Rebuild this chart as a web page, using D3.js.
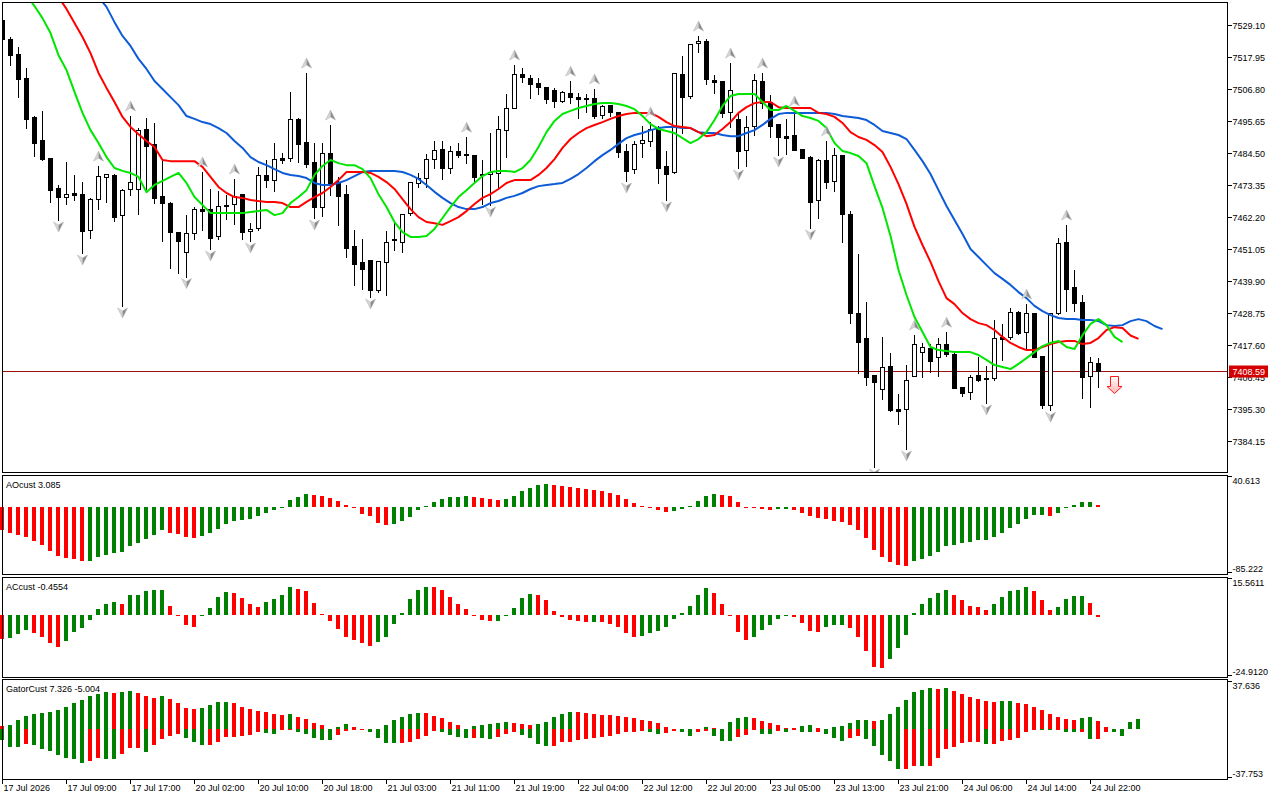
<!DOCTYPE html>
<html>
<head>
<meta charset="utf-8">
<script src="https://cdn.jsdelivr.net/npm/d3@7"></script>
<style>
  body { margin: 0; background: #fff; }
  svg { display: block; font-family: "Liberation Sans", Arial, sans-serif; font-size: 9px; }
</style>
</head>
<body>
<svg id="chart" width="1280" height="800"></svg>
<script>
// hourly bars, index 0 = 17 Jul 2026 01:00
const open = [7530.8,7524.2,7519.0,7510.6,7497.1,7489.1,7482.8,7472.3,7469.2,7470.6,
  7470.3,7457.7,7468.5,7476.2,7476.9,7462.9,7472.0,7472.0,7492.9,7487.7,
  7469.6,7467.1,7457.0,7450.1,7456.7,7465.0,7465.0,7455.6,7466.4,7466.8,
  7470.2,7457.4,7458.4,7476.9,7475.1,7482.8,7482.8,7496.4,7488.4,7481.4,
  7465.7,7484.5,7474.4,7470.2,7452.1,7446.6,7447.3,7436.8,7446.6,7454.6,
  7453.5,7463.6,7474.1,7475.8,7482.4,7485.9,7479.3,7485.2,7484.2,7483.8,
  7477.2,7477.2,7477.6,7492.5,7500.2,7512.0,7510.6,7508.9,7507.5,7506.5,
  7502.6,7505.4,7504.0,7503.7,7503.7,7497.8,7501.2,7498.8,7485.2,7478.9,
  7488.0,7488.7,7493.2,7480.0,7477.9,7512.0,7504.4,7522.8,7523.5,7509.9,
  7509.6,7498.8,7496.4,7485.6,7493.9,7509.6,7502.3,7494.6,7490.4,7490.8,
  7485.9,7483.1,7468.2,7482.1,7474.8,7483.8,7463.3,7428.8,7420.1,7407.2,
  7402.3,7410.4,7395.4,7395.4,7406.9,7415.2,7416.6,7413.5,7418.0,7414.5,
  7403.0,7401.3,7407.2,7406.2,7406.2,7420.5,7420.5,7429.2,7422.2,7428.8,
  7413.8,7396.8,7428.8,7453.5,7437.9,7432.6,7406.9,7411.4];
const high = [7531.5,7525.3,7521.8,7514.5,7497.8,7499.5,7482.8,7473.7,7481.7,7477.2,
  7474.8,7469.2,7480.3,7477.2,7477.6,7472.3,7497.8,7493.6,7497.1,7495.3,
  7482.4,7467.8,7457.0,7463.3,7466.1,7478.3,7472.3,7471.6,7470.2,7475.8,
  7470.6,7460.5,7480.0,7482.4,7488.4,7484.9,7506.1,7497.1,7512.7,7488.4,
  7488.4,7494.6,7476.5,7473.7,7458.1,7454.9,7447.3,7446.9,7457.7,7460.8,
  7463.6,7474.4,7477.9,7484.5,7489.1,7489.1,7487.3,7488.4,7490.4,7483.8,
  7482.4,7491.8,7497.8,7505.4,7515.5,7514.5,7512.0,7511.0,7507.9,7507.5,
  7506.5,7509.9,7505.8,7505.4,7507.2,7501.6,7501.6,7498.8,7488.0,7489.1,
  7494.3,7495.7,7494.3,7485.6,7512.4,7518.7,7522.8,7525.6,7524.6,7512.0,
  7509.9,7516.2,7498.8,7497.8,7512.4,7512.7,7505.1,7495.0,7496.7,7499.5,
  7485.9,7483.8,7482.8,7489.1,7486.6,7484.2,7464.7,7449.7,7433.0,7407.2,
  7420.8,7415.2,7400.9,7411.1,7421.5,7418.7,7418.4,7420.5,7422.5,7415.9,
  7403.0,7407.6,7413.8,7410.7,7426.7,7425.3,7430.9,7429.9,7432.3,7429.2,
  7413.8,7429.2,7455.3,7459.8,7444.1,7435.4,7413.8,7413.5];
const low = [7523.9,7515.2,7504.0,7493.2,7483.5,7482.0,7467.5,7461.2,7466.8,7468.2,
  7449.7,7454.9,7465.0,7467.5,7460.8,7431.3,7469.9,7463.3,7472.0,7467.1,
  7453.9,7444.5,7442.7,7441.5,7454.6,7457.7,7451.1,7454.6,7461.5,7459.8,
  7454.6,7453.9,7457.7,7472.7,7471.3,7481.0,7481.7,7481.4,7479.7,7461.9,
  7462.6,7469.9,7459.5,7448.3,7438.6,7437.2,7434.4,7436.1,7435.1,7450.8,
  7450.1,7462.9,7472.7,7472.7,7479.3,7475.5,7477.6,7483.1,7481.0,7474.4,
  7466.8,7466.4,7472.7,7483.1,7500.2,7509.2,7503.7,7505.1,7501.9,7500.5,
  7502.3,7501.9,7496.7,7498.8,7496.7,7496.7,7497.4,7483.1,7474.8,7477.6,
  7483.1,7487.0,7474.1,7468.2,7477.6,7491.5,7503.7,7519.7,7508.6,7505.4,
  7497.1,7493.6,7479.3,7480.0,7490.8,7500.2,7490.1,7483.8,7484.2,7485.6,
  7482.8,7458.4,7461.9,7472.3,7471.3,7453.5,7425.3,7407.9,7403.7,7375.2,
  7398.9,7394.7,7390.2,7381.5,7406.9,7406.5,7408.3,7406.9,7413.8,7402.7,
  7399.9,7398.9,7405.1,7397.5,7405.5,7412.5,7419.8,7421.5,7416.6,7413.5,
  7395.7,7395.0,7428.5,7429.5,7429.5,7399.2,7396.1,7403.0];
const close = [7524.2,7518.7,7510.3,7496.4,7488.0,7482.4,7471.6,7469.2,7470.3,7469.9,
  7457.4,7468.5,7476.5,7477.2,7462.2,7471.6,7474.4,7492.5,7487.0,7468.9,
  7467.1,7457.0,7453.9,7456.7,7465.0,7464.3,7454.9,7466.1,7466.1,7469.6,
  7457.0,7458.1,7476.9,7475.1,7482.4,7482.1,7496.4,7487.7,7480.7,7465.7,
  7484.5,7474.1,7469.6,7451.4,7445.9,7444.1,7436.8,7446.9,7453.5,7454.2,
  7463.3,7474.4,7475.8,7482.4,7485.6,7479.3,7485.2,7483.8,7483.8,7476.2,
  7476.9,7477.9,7492.9,7500.2,7512.0,7511.0,7508.6,7507.5,7503.3,7502.6,
  7505.8,7504.0,7503.3,7503.3,7497.4,7500.9,7498.8,7484.9,7478.3,7487.7,
  7489.1,7492.9,7479.3,7477.2,7512.4,7504.0,7522.5,7523.5,7510.3,7509.2,
  7498.5,7506.5,7485.2,7493.6,7509.9,7501.9,7493.9,7490.1,7489.7,7485.6,
  7482.8,7467.5,7482.1,7474.4,7483.8,7463.3,7428.8,7418.7,7406.5,7404.8,
  7410.0,7395.0,7394.7,7405.5,7418.0,7417.0,7412.1,7418.0,7414.5,7402.7,
  7401.0,7406.5,7405.5,7405.8,7420.1,7419.8,7429.2,7421.8,7428.8,7413.5,
  7396.8,7428.8,7453.2,7437.2,7432.3,7406.5,7411.8,7408.59];

// alligator lines (already shifted forward), first bar index of each
const jawStart = 12;
const jaw = [7538.8,7535.4,7530.1,7525.3,7521.8,7517.3,7513.8,7509.6,7506.8,7504.0,
  7501.2,7497.4,7496.4,7495.3,7494.6,7493.2,7491.5,7488.7,7486.3,7483.1,
  7481.4,7480.3,7478.9,7477.6,7476.9,7476.5,7475.8,7474.1,7473.4,7473.4,
  7474.1,7475.1,7476.5,7477.9,7478.3,7478.3,7478.3,7478.3,7477.9,7476.9,
  7475.5,7473.4,7471.0,7468.9,7467.1,7465.7,7465.0,7465.0,7465.7,7467.1,
  7467.8,7468.9,7469.6,7470.6,7472.0,7473.0,7473.4,7473.7,7474.1,7475.5,
  7477.2,7479.3,7481.7,7483.8,7485.6,7487.7,7489.7,7490.8,7491.5,7492.5,
  7493.2,7493.6,7493.6,7493.2,7493.2,7491.8,7491.5,7491.5,7490.8,7490.4,
  7490.4,7491.5,7492.5,7494.3,7496.4,7498.1,7498.5,7498.5,7498.5,7498.5,
  7498.5,7498.5,7498.1,7497.4,7497.1,7496.7,7496.0,7494.3,7492.2,7491.5,
  7490.8,7489.4,7485.6,7481.7,7477.2,7471.6,7466.1,7461.2,7456.3,7451.1,
  7448.3,7445.5,7442.7,7440.7,7438.6,7436.1,7434.0,7431.3,7429.5,7428.1,
  7427.1,7426.7,7426.7,7426.4,7426.4,7426.0,7424.6,7424.3,7424.6,7426.0,
  7426.7,7426.0,7424.3,7423.2];
const teethStart = 7;
const teeth = [7538.8,7534.7,7529.8,7524.9,7519.3,7512.4,7507.2,7502.3,7497.1,7493.6,
  7491.1,7488.7,7486.6,7482.1,7481.7,7481.7,7481.7,7481.7,7479.7,7476.2,
  7472.7,7470.6,7469.2,7468.9,7468.2,7467.8,7467.5,7467.5,7467.1,7465.7,
  7465.7,7467.5,7469.2,7470.6,7472.7,7475.1,7477.9,7477.9,7477.9,7477.6,
  7476.2,7474.4,7472.0,7468.5,7465.0,7462.2,7460.5,7460.1,7459.5,7460.8,
  7462.2,7464.3,7466.8,7468.9,7470.2,7472.0,7474.1,7475.1,7475.1,7475.1,
  7476.9,7479.3,7482.4,7486.3,7489.4,7491.5,7493.2,7494.3,7495.3,7496.4,
  7497.4,7498.1,7498.5,7498.5,7498.5,7497.1,7495.3,7493.9,7493.6,7493.2,
  7491.8,7490.4,7490.8,7492.9,7495.3,7498.5,7500.5,7501.9,7502.3,7502.3,
  7500.5,7500.2,7500.2,7500.2,7500.2,7498.5,7498.1,7497.1,7495.0,7491.8,
  7490.1,7489.1,7487.3,7484.9,7479.7,7473.7,7466.8,7458.8,7452.5,7446.6,
  7439.9,7434.0,7431.9,7428.8,7426.7,7425.3,7424.6,7422.9,7420.5,7418.4,
  7417.0,7415.9,7415.9,7417.0,7418.0,7418.7,7419.1,7419.1,7418.0,7418.4,
  7420.1,7422.9,7423.9,7423.6,7421.0,7419.8];
const lipsStart = 3;
const lips = [7539.5,7535.7,7531.5,7526.3,7518.6,7513.4,7505.8,7498.5,7492.5,7488.0,
  7483.1,7479.3,7478.3,7477.6,7476.2,7470.9,7473.4,7474.8,7476.2,7477.6,
  7474.1,7469.2,7466.4,7463.6,7463.6,7463.6,7463.6,7463.6,7464.0,7464.3,
  7464.7,7462.9,7463.6,7467.1,7469.2,7471.6,7476.9,7480.0,7482.1,7481.0,
  7480.3,7480.3,7478.9,7475.8,7470.2,7465.7,7460.5,7457.0,7455.3,7455.3,
  7455.6,7458.1,7461.9,7465.7,7469.2,7471.6,7474.1,7476.5,7477.9,7478.3,
  7478.3,7477.9,7479.3,7482.1,7486.6,7491.8,7495.7,7498.1,7499.2,7500.2,
  7500.9,7501.6,7501.9,7501.9,7501.6,7500.9,7499.8,7497.4,7494.6,7492.9,
  7492.2,7491.5,7489.7,7488.0,7489.4,7491.8,7496.0,7500.9,7504.4,7505.1,
  7505.1,7505.1,7502.3,7499.5,7499.5,7500.9,7499.2,7497.4,7496.7,7495.7,
  7493.2,7488.0,7485.2,7484.5,7483.5,7481.0,7473.0,7465.4,7455.6,7443.8,
  7435.1,7427.4,7422.2,7417.0,7415.9,7415.6,7415.2,7415.2,7415.2,7414.2,
  7412.5,7410.7,7410.0,7409.3,7411.1,7413.1,7415.2,7417.3,7418.4,7419.1,
  7417.0,7416.3,7421.1,7425.0,7426.7,7424.6,7420.5,7418.7];

const fractalUp = [12,16,25,29,38,41,58,64,71,74,81,87,91,95,99,103,114,118,128,133];
const fractalDown = [7,10,15,23,26,31,39,46,61,78,83,92,97,101,109,113,123,131];
const signal = { bar: 139, price: 7406.9 };
const lastPrice = 7408.59;

const priceTicks = [7529.10,7517.95,7506.80,7495.65,7484.50,7473.35,7462.20,
  7451.05,7439.90,7428.75,7417.60,7406.45,7395.30,7384.15];

const ao = [-28.8,-33.0,-36.0,-38.0,-43.0,-48.7,-56.0,-62.7,-65.0,-66.5,
  -68.6,-68.4,-63.6,-61.4,-58.5,-57.2,-50.0,-45.8,-40.7,-35.6,
  -29.7,-32.6,-34.7,-38.1,-39.8,-36.9,-33.0,-28.4,-22.0,-18.2,
  -16.9,-15.7,-11.9,-8.0,-4.2,-1.3,8.5,12.7,16.1,15.8,
  14.4,11.9,7.6,2.1,-1.7,-8.9,-11.4,-20.3,-22.5,-21.2,
  -17.8,-12.7,-4.2,1.3,6.4,9.7,12.7,12.9,13.6,12.7,
  11.0,9.7,9.3,9.7,13.6,20.3,24.6,27.5,28.8,28.0,
  26.3,25.4,24.2,22.5,21.2,19.9,17.8,14.8,9.7,4.7,
  0.8,-0.6,-3.8,-6.4,-4.7,-2.5,0.8,7.2,13.6,16.1,
  14.8,13.6,5.9,-0.8,-0.9,-2.1,-3.4,-3.2,-2.5,-3.4,
  -7.6,-11.4,-14.4,-15.3,-17.8,-19.5,-22.9,-29.7,-39.4,-55.1,
  -63.6,-69.9,-74.2,-75.4,-68.6,-66.1,-62.7,-57.6,-50.0,-48.3,
  -45.8,-44.9,-42.4,-42.2,-38.6,-33.0,-26.7,-21.6,-15.3,-10.6,
  -9.8,-11.4,-7.6,-1.3,2.1,5.9,6.3,3.085];
const ac = [-9.4,-9.2,-7.7,-5.7,-7.1,-8.8,-11.2,-12.8,-10.4,-6.7,
  -5.1,-1.8,2.6,4.5,5.3,4.5,8.1,8.4,9.8,10.1,
  10.2,4.0,-0.3,-4.0,-4.7,-0.3,3.1,7.4,9.3,9.2,
  7.0,4.5,3.6,5.3,6.5,8.1,11.5,10.9,9.8,5.0,
  0.7,-2.3,-5.5,-8.8,-10.1,-11.1,-12.4,-10.8,-8.8,-3.6,
  1.1,6.5,10.3,11.7,11.6,10.1,7.4,4.5,2.8,-0.3,
  -1.9,-2.3,-2.2,-0.4,3.2,6.9,8.8,8.4,6.1,2.0,
  -0.7,-1.8,-2.4,-2.7,-2.6,-2.7,-3.6,-4.7,-7.1,-8.8,
  -8.4,-7.1,-6.3,-4.7,-1.5,1.1,4.0,8.1,11.3,8.9,
  4.5,-0.3,-6.7,-10.1,-8.8,-5.7,-4.0,-1.5,-0.3,-0.7,
  -3.1,-6.1,-6.5,-4.7,-4.0,-3.9,-5.1,-8.8,-14.2,-20.9,
  -21.3,-17.8,-13.2,-8.1,1.1,4.5,7.0,8.9,10.5,8.1,
  6.1,4.0,3.6,2.4,4.5,7.4,9.7,10.5,11.7,9.7,
  6.1,2.4,3.6,6.5,7.7,7.8,4.9,-0.4554];
const gatorUp = [2.3,3.3,7.0,10.0,11.5,12.5,13.3,14.5,16.8,19.5,
  22.0,25.0,26.6,27.8,27.6,28.1,28.6,27.1,25.0,23.5,
  25.0,22.5,19.8,15.8,15.3,16.0,18.3,20.5,20.6,19.5,
  16.5,15.3,13.8,13.0,11.8,10.8,11.5,9.5,7.8,4.8,
  3.3,0.3,1.8,4.0,1.5,0.3,0,0,3.3,7.0,
  9.3,11.5,12.5,12.4,10.0,8.5,5.5,3.3,0.2,2.5,
  3.3,4.0,4.8,5.5,4.8,4.0,3.3,4.0,5.5,9.3,
  11.5,13.0,12.9,12.5,11.5,10.8,10.7,10.0,9.3,8.5,
  7.0,6.0,4.8,2.0,0.3,0.2,0.1,0.5,1.8,1.0,
  0.3,5.5,8.5,9.3,8.5,6.5,4.8,3.3,1.0,0.8,
  2.5,3.3,1.0,0.3,1.8,2.5,4.8,7.0,7.1,6.3,
  7.0,11.8,16.8,22.0,28.1,29.6,31.1,30.3,31.1,28.8,
  26.6,24.3,22.5,21.3,20.5,21.0,21.3,19.8,19.0,16.8,
  14.5,11.5,9.3,7.8,7.0,8.5,9.3,6.3,1.5,0,
  0,5.5,7.8];
const gatorDown = [-8.5,-13.3,-13.4,-11.5,-12.3,-14.8,-16.8,-19.8,-21.5,-22.8,
  -25.8,-24.3,-22.0,-22.8,-22.9,-19.0,-14.5,-14.4,-17.5,-12.3,
  -7.3,-4.8,-3.5,-7.0,-9.8,-12.3,-12.2,-10.0,-6.3,-5.8,
  -5.3,-4.5,-2.5,-2.6,-4.0,-1.0,-0.5,-2.5,-4.0,-6.5,
  -8.0,-8.5,-4.5,-1.5,-1.0,-0.3,-2.5,-6.5,-10.3,-10.8,
  -10.7,-10.0,-7.3,-5.0,-1.3,-1.8,-4.3,-5.8,-6.5,-6.4,
  -7.0,-7.3,-5.8,-3.5,-2.5,-4.3,-6.5,-11.5,-12.5,-12.4,
  -10.0,-9.9,-8.5,-7.5,-7.0,-6.0,-5.0,-3.3,-2.5,-2.4,
  -1.5,-2.5,-4.0,-3.0,-1.5,-2.5,-4.8,-2.3,-1.5,-5.5,
  -8.8,-9.3,-6.3,-4.3,-0.3,-3.3,-3.4,-1.3,-2.0,-0.5,
  -1.8,-2.5,-2.4,-3.3,-7.0,-9.3,-7.0,-5.5,-7.8,-13.0,
  -19.8,-24.3,-30.3,-30.2,-27.6,-28.1,-27.6,-22.0,-15.3,-13.8,
  -10.8,-10.0,-9.8,-11.5,-11.4,-9.3,-8.5,-6.5,-2.5,-0.3,
  -0.5,-1.0,-0.1,-1.8,-2.5,-1.8,-7.3,-7.2,-1.8,-2.5,
  -4.8];

const timeLabels = ["17 Jul 2026","17 Jul 09:00","17 Jul 17:00","20 Jul 02:00","20 Jul 10:00",
  "20 Jul 18:00","21 Jul 03:00","21 Jul 11:00","21 Jul 19:00","22 Jul 04:00","22 Jul 12:00",
  "22 Jul 20:00","23 Jul 05:00","23 Jul 13:00","23 Jul 21:00","24 Jul 06:00","24 Jul 14:00",
  "24 Jul 22:00"];
const labelStep = 8; // bars between time labels

const GREEN = '#008000', RED = '#ff0000';

const svg = d3.select('#chart');
const x = d3.scaleLinear().domain([0, 1]).range([2.5, 10.5]);
const yMain = d3.scaleLinear().domain([7384.15, 7529.10]).range([441.3, 25]);
const yAO = d3.scaleLinear().domain([-85.222, 40.613]).range([574, 475]);
const yAC = d3.scaleLinear().domain([-24.912, 15.5611]).range([677, 577]);
const yGa = d3.scaleLinear().domain([-37.753, 37.636]).range([779, 679.5]);

const panels = [
  { top: 2.5, bottom: 472.5 },
  { top: 475.5, bottom: 574.5 },
  { top: 577.5, bottom: 677.5 },
  { top: 679.5, bottom: 779.5 }
];
const left = 2.5, right = 1227.5;
const px = v => Math.round(v) + 0.5;

svg.append('defs').append('clipPath').attr('id', 'clipMain')
  .append('rect').attr('x', 3).attr('y', 3).attr('width', right - 3.5).attr('height', 469);

const grad = svg.select('defs').append('linearGradient')
  .attr('id', 'sigFill').attr('x1', 0).attr('y1', 0).attr('x2', 0).attr('y2', 1);
grad.append('stop').attr('offset', '0%').attr('stop-color', '#ffffff');
grad.append('stop').attr('offset', '100%').attr('stop-color', '#ffb4b4');

// ---------- main price window ----------
const main = svg.append('g').attr('clip-path', 'url(#clipMain)');
const idx = d3.range(close.length);

// current price line
main.append('line')
  .attr('x1', left).attr('x2', right)
  .attr('y1', px(yMain(lastPrice))).attr('y2', px(yMain(lastPrice)))
  .attr('stroke', '#a01010').attr('stroke-width', 1);

main.selectAll('line.wick').data(idx).join('line')
  .attr('class', 'wick')
  .attr('x1', k => x(k)).attr('x2', k => x(k))
  .attr('y1', k => px(yMain(high[k]))).attr('y2', k => px(yMain(low[k])))
  .attr('stroke', '#000').attr('stroke-width', 1)
  .attr('shape-rendering', 'crispEdges');

main.selectAll('path.body').data(idx).join('path')
  .attr('class', 'body')
  .attr('d', k => {
    const t = px(Math.min(yMain(open[k]), yMain(close[k])));
    const b = px(Math.max(yMain(open[k]), yMain(close[k])));
    const x0 = x(k) - 2, x1 = x(k) + 2;
    return `M${x0},${t}H${x1}V${b}H${x0}Z`;
  })
  .attr('fill', k => close[k] < open[k] ? '#000' : '#fff')
  .attr('stroke', '#000').attr('stroke-width', 1)
  .attr('shape-rendering', 'crispEdges');

const lineGen = d3.line().x(d => x(d.k)).y(d => yMain(d.v));
const asPoints = (start, vals) => vals.map((v, i) => ({ k: start + i, v }));
[[jawStart, jaw, '#0d5bd6'], [teethStart, teeth, '#ff0000'], [lipsStart, lips, '#00e600']]
  .forEach(([s, vals, col]) => {
    main.append('path')
      .datum(asPoints(s, vals))
      .attr('d', lineGen)
      .attr('fill', 'none')
      .attr('stroke', col)
      .attr('stroke-width', 2)
      .attr('stroke-linejoin', 'round');
  });

// fractals
function drawFractal(g, cx, cy, up) {
  const s = up ? 1 : -1;
  const f = g.append('g').attr('transform', `translate(${cx},${cy}) scale(1,${s})`);
  f.append('path').attr('d', 'M0,-5L0,2L-5,5Z').attr('fill', '#d6d6d6');
  f.append('path').attr('d', 'M0,-5L5,5L0,2Z').attr('fill', '#8a8a8a');
  f.append('path').attr('d', 'M0,-5L5,5L0,2L-5,5Z').attr('fill', 'none')
    .attr('stroke', '#b0b0b0').attr('stroke-width', 0.5);
}
fractalUp.forEach(k => drawFractal(main, x(k), yMain(high[k]) - 9, true));
fractalDown.forEach(k => drawFractal(main, x(k), yMain(low[k]) + 7, false));

// sell signal arrow
main.append('path')
  .attr('transform', `translate(${x(signal.bar)},${px(yMain(signal.price))})`)
  .attr('d', 'M-4,0H4V10H7.5L0,17L-7.5,10H-4Z')
  .attr('fill', 'url(#sigFill)')
  .attr('stroke', '#ff1a1a').attr('stroke-width', 1);

// ---------- histogram windows ----------
function histogram(vals, y, colorOf) {
  const g = svg.append('g').attr('shape-rendering', 'crispEdges');
  const y0 = Math.round(y(0));
  g.selectAll('rect').data(vals.map((v, k) => ({ v, k })).filter(d => d.v !== 0)).join('rect')
    .attr('x', d => x(d.k) - 2.5)
    .attr('width', 4)
    .attr('y', d => Math.min(y0, Math.round(y(d.v))))
    .attr('height', d => Math.max(1, Math.abs(Math.round(y(d.v)) - y0)))
    .attr('fill', d => colorOf(d.k));
}
const risingColor = (vals, first) => k =>
  k === 0 ? first : (vals[k] > vals[k - 1] ? GREEN : RED);
const growingColor = (vals, first) => k =>
  k === 0 ? first : (Math.abs(vals[k]) > Math.abs(vals[k - 1]) ? GREEN : RED);

histogram(ao, yAO, risingColor(ao, RED));
histogram(ac, yAC, risingColor(ac, RED));
histogram(gatorUp, yGa, growingColor(gatorUp, RED));
histogram(gatorDown, yGa, growingColor(gatorDown, GREEN));

// ---------- frames ----------
panels.forEach(p => {
  svg.append('rect')
    .attr('x', left).attr('y', p.top)
    .attr('width', right - left).attr('height', p.bottom - p.top)
    .attr('fill', 'none').attr('stroke', '#000').attr('stroke-width', 1);
});

// window titles
const titles = [['AOcust 3.085', 488], ['ACcust -0.4554', 590], ['GatorCust 7.326 -5.004', 692]];
titles.forEach(([t, yy]) => svg.append('text').attr('x', 6).attr('y', yy).attr('fill', '#000').text(t));

// ---------- right price scale ----------
const axisG = svg.append('g');
priceTicks.forEach(v => {
  const yy = px(yMain(v));
  axisG.append('line').attr('x1', right).attr('x2', right + 4).attr('y1', yy).attr('y2', yy)
    .attr('stroke', '#000').attr('shape-rendering', 'crispEdges');
  axisG.append('text').attr('x', 1232.5).attr('y', yy + 3.5).text(v.toFixed(2));
});

const subScales = [
  [yAO, '40.613', '-85.222'],
  [yAC, '15.5611', '-24.9120'],
  [yGa, '37.636', '-37.753']
];
subScales.forEach(([sc, hiTxt, loTxt]) => {
  const [lo, hi] = sc.domain();
  const yt = px(sc(hi)) + 1, yb = px(sc(lo)) - 2;
  [yt, yb].forEach(yy => axisG.append('line')
    .attr('x1', right).attr('x2', right + 4).attr('y1', yy).attr('y2', yy)
    .attr('stroke', '#000').attr('shape-rendering', 'crispEdges'));
  axisG.append('text').attr('x', 1232.5).attr('y', sc(hi) + 9).text(hiTxt);
  axisG.append('text').attr('x', 1232.5).attr('y', sc(lo) - 2).text(loTxt);
});

// last price tag
const yl = px(yMain(lastPrice));
axisG.append('rect').attr('x', 1229).attr('y', yl - 6).attr('width', 39).attr('height', 12)
  .attr('fill', '#d40000');
axisG.append('text').attr('x', 1232.5).attr('y', yl + 3.5).attr('fill', '#fff')
  .text(lastPrice.toFixed(2));

// ---------- time axis ----------
timeLabels.forEach((t, i) => {
  const xx = x(i * labelStep);
  axisG.append('line').attr('x1', xx).attr('x2', xx).attr('y1', 779.5).attr('y2', 784)
    .attr('stroke', '#000').attr('shape-rendering', 'crispEdges');
  axisG.append('text').attr('x', xx + 1).attr('y', 791).text(t);
});
</script>
</body>
</html>
